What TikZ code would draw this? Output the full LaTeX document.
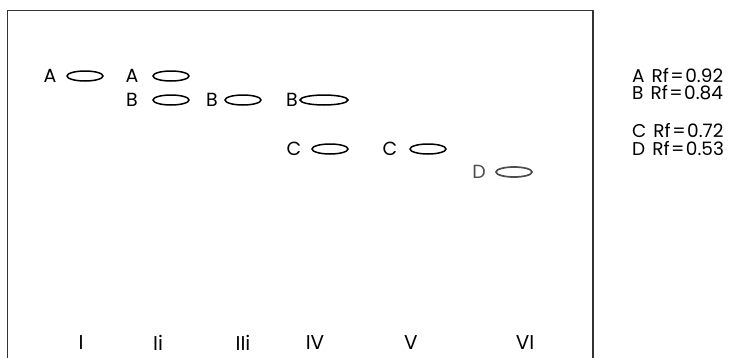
\documentclass[tikz,border=0pt]{standalone}
\usepackage{fontspec}
\setmainfont{Poppins}
\usetikzlibrary{shapes.geometric}
\newcommand{\rfline}[2]{#1\hspace{7pt}Rf\hspace{1.5pt}=\hspace{1.5pt}#2}
\begin{document}
\begin{tikzpicture}[x=1pt,y=-1pt,
  spot/.style={draw=black,line width=1.5pt,ellipse,inner sep=0pt,minimum width=36pt,minimum height=10pt},
  lbl/.style={inner sep=0pt,font=\fontsize{19}{19}\selectfont},
  leg/.style={inner sep=0pt,anchor=west,font=\fontsize{18.5}{18.5}\selectfont},
  lane/.style={inner sep=0pt,font=\fontsize{20}{20}\selectfont}]
\useasboundingbox (0,0) rectangle (737,357);
\draw[line width=1.8pt,black!80] (7.5,358) -- (7.5,10.5) -- (593,10.5) -- (593,358);
% lane I
\node[lbl] (a1) at (50,76) {A};
\node[spot] (sa1) at (85,76) {};
% lane II
\node[lbl] (a2) at (132,76) {A};
\node[spot] (sa2) at (171,76) {};
\node[lbl] (b2) at (132,100) {B};
\node[spot] (sb2) at (171,100) {};
% lane III
\node[lbl] (b3) at (212,100) {B};
\node[spot] (sb3) at (243,100) {};
% lane IV
\node[lbl] (b4) at (292,100) {B};
\node[spot,minimum width=48pt] (sb4) at (324,100) {};
\node[lbl] (c4) at (294,149) {C};
\node[spot] (sc4) at (330,149) {};
% lane V
\node[lbl] (c5) at (390,149) {C};
\node[spot] (sc5) at (428,149) {};
% lane VI
\node[lbl,text=black!70] (d6) at (479,172) {D};
\node[spot,draw=black!70,line width=1.7pt] (sd6) at (514,172) {};
% legend
\node[leg] (la) at (632,75) {\rfline{A}{0.92}};
\node[leg] (lb) at (632,93) {\rfline{B}{0.84}};
\node[leg] (lc) at (632,130) {\rfline{C}{0.72}};
\node[leg] (ld) at (632,148) {\rfline{D}{0.53}};
% lane numerals
\node[lane] (n1) at (81,343) {I};
\node[lane] (n2) at (158,343) {Ii};
\node[lane] (n3) at (243,343) {IIi};
\node[lane] (n4) at (315,343) {IV};
\node[lane] (n5) at (411,343) {V};
\node[lane] (n6) at (525,343) {VI};
\end{tikzpicture}
\end{document}
